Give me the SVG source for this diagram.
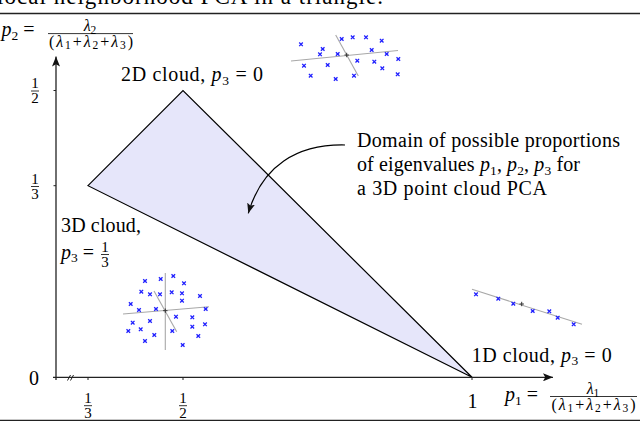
<svg xmlns="http://www.w3.org/2000/svg" width="640" height="421" viewBox="0 0 640 421">
<defs>
<style>
text{font-family:"Liberation Serif","Times New Roman",serif;fill:#000}
.lbl{font-size:20px}
.fr{font-size:15px;text-anchor:middle}
.num{font-size:16px;text-anchor:middle}
.den{font-size:16px;text-anchor:start}
.sm{font-size:13.5px}
.ss{font-size:11.5px}
.it{font-style:italic}
.axis{stroke:#222;stroke-width:1.3;fill:none}
.tick{stroke:#222;stroke-width:1}
.edge{stroke:#000;stroke-width:1.2;fill:#e6e6fa;stroke-linejoin:miter}
.gl{stroke:#a8a8a8;stroke-width:1.1}
.bar{stroke:#000;stroke-width:0.8}
.rule{stroke:#222;stroke-width:1.3}
</style>
<marker id="ah" viewBox="0 0 10 8" refX="10" refY="4" markerWidth="10" markerHeight="8" markerUnits="userSpaceOnUse" orient="auto"><path d="M0,0 L10,4 L0,8 L2.2,4Z" fill="#111"/></marker>
<path id="x" d="M-1.8,-1.8L1.8,1.8M-1.8,1.8L1.8,-1.8" stroke="#1f1fff" stroke-width="1.3"/>
<path id="pl" d="M-2.2,0H2.2M0,-2.2V2.2" stroke="#333" stroke-width="1"/>
</defs>

<g id="caption">
<text x="-3" y="4" font-size="23" textLength="386">local neighborhood PCA in a triangle.</text>
<line class="rule" x1="0" y1="13.5" x2="640" y2="13.5"/>
<line class="rule" x1="0" y1="420.3" x2="640" y2="420.3"/>
</g>

<g id="domain">
<polygon class="edge" points="88,185.7 183,90.5 472,377.3"/>
</g>

<g id="axes">
<line class="axis" x1="53" y1="377.3" x2="553" y2="377.3" marker-end="url(#ah)"/>
<line class="axis" x1="56" y1="380" x2="56" y2="56.5" marker-end="url(#ah)"/>
<line class="tick" x1="53.5" y1="90.5" x2="56" y2="90.5"/>
<line class="tick" x1="53.5" y1="185.7" x2="56" y2="185.7"/>
<line class="tick" x1="88" y1="377.3" x2="88" y2="380"/>
<line class="tick" x1="183" y1="377.3" x2="183" y2="380"/>
<line class="tick" x1="472" y1="377.3" x2="472" y2="380"/>
<path d="M67.5,380.5 L70.5,375 M70.5,380.5 L73.5,375" stroke="#222" stroke-width="1"/>
</g>

<g id="tick-labels">
<text class="lbl" x="34" y="385" text-anchor="middle">0</text>
<text class="fr" x="35" y="88">1</text>
<line class="bar" x1="31" y1="91" x2="39" y2="91"/>
<text class="fr" x="35" y="103">2</text>
<text class="fr" x="35" y="183.5">1</text>
<line class="bar" x1="31" y1="186.5" x2="39" y2="186.5"/>
<text class="fr" x="35" y="198.5">3</text>
<text class="fr" x="88" y="403">1</text>
<line class="bar" x1="84" y1="405.7" x2="92" y2="405.7"/>
<text class="fr" x="88" y="418">3</text>
<text class="fr" x="183" y="403">1</text>
<line class="bar" x1="179" y1="405.7" x2="187" y2="405.7"/>
<text class="fr" x="183" y="418">2</text>
<text class="lbl" x="472.5" y="408" text-anchor="middle">1</text>
</g>

<g id="y-axis-label">
<text class="lbl" x="1.5" y="36"><tspan class="it">p</tspan><tspan class="sm" dy="3.5">2</tspan><tspan dy="-3.5" dx="5">=</tspan></text>
<text class="num" x="90" y="31"><tspan class="it">λ</tspan><tspan class="ss" dy="2.5">2</tspan></text>
<line class="bar" x1="48" y1="33.6" x2="133" y2="33.6"/>
<text class="den" x="49" y="46.5" textLength="84">(<tspan class="it">λ</tspan><tspan class="ss" dy="2.5">1</tspan><tspan dy="-2.5">+</tspan><tspan class="it">λ</tspan><tspan class="ss" dy="2.5">2</tspan><tspan dy="-2.5">+</tspan><tspan class="it">λ</tspan><tspan class="ss" dy="2.5">3</tspan><tspan dy="-2.5">)</tspan></text>
</g>

<g id="x-axis-label">
<text class="lbl" x="505" y="401"><tspan class="it">p</tspan><tspan class="sm" dy="3.5">1</tspan><tspan dy="-3.5" dx="5">=</tspan></text>
<text class="num" x="593" y="394"><tspan class="it">λ</tspan><tspan class="ss" dy="2.5">1</tspan></text>
<line class="bar" x1="550" y1="396.5" x2="637" y2="396.5"/>
<text class="den" x="551.5" y="409.5" textLength="84">(<tspan class="it">λ</tspan><tspan class="ss" dy="2.5">1</tspan><tspan dy="-2.5">+</tspan><tspan class="it">λ</tspan><tspan class="ss" dy="2.5">2</tspan><tspan dy="-2.5">+</tspan><tspan class="it">λ</tspan><tspan class="ss" dy="2.5">3</tspan><tspan dy="-2.5">)</tspan></text>
</g>

<g id="label-2d">
<text class="lbl" x="121" y="81" textLength="142">2D cloud, <tspan class="it">p</tspan><tspan class="sm" dy="3.5">3</tspan><tspan dy="-3.5"> = 0</tspan></text>
</g>

<g id="label-3d">
<text class="lbl" x="61" y="231.5" textLength="80">3D cloud,</text>
<text class="lbl" x="61" y="258.5"><tspan class="it">p</tspan><tspan class="sm" dy="3.5">3</tspan><tspan dy="-3.5" dx="5">=</tspan></text>
<text class="fr" x="105" y="252">1</text>
<line class="bar" x1="101" y1="254.5" x2="109" y2="254.5"/>
<text class="fr" x="105" y="267">3</text>
</g>

<g id="label-1d">
<text class="lbl" x="471.7" y="361.7" textLength="140">1D cloud, <tspan class="it">p</tspan><tspan class="sm" dy="3.5">3</tspan><tspan dy="-3.5"> = 0</tspan></text>
</g>

<g id="note">
<text class="lbl" x="357" y="146.5" textLength="263">Domain of possible proportions</text>
<text class="lbl" x="357" y="171" textLength="223">of eigenvalues <tspan class="it">p</tspan><tspan class="sm" dy="3.5">1</tspan><tspan dy="-3.5">, </tspan><tspan class="it">p</tspan><tspan class="sm" dy="3.5">2</tspan><tspan dy="-3.5">, </tspan><tspan class="it">p</tspan><tspan class="sm" dy="3.5">3</tspan><tspan dy="-3.5"> for</tspan></text>
<text class="lbl" x="357" y="195" textLength="190">a 3D point cloud PCA</text>
</g>

<g id="cloud-2d">
<line class="gl" x1="291" y1="61" x2="398" y2="50.5"/>
<line class="gl" x1="335.7" y1="35" x2="358.3" y2="76"/>
<use href="#pl" x="346.7" y="55"/>
<use href="#x" x="301" y="44.3"/><use href="#x" x="322.7" y="49"/><use href="#x" x="320" y="54.3"/>
<use href="#x" x="341.7" y="39"/><use href="#x" x="352.7" y="37.3"/><use href="#x" x="366" y="37.3"/>
<use href="#x" x="381.7" y="40.7"/><use href="#x" x="371.7" y="50"/><use href="#x" x="386.7" y="54"/>
<use href="#x" x="398.3" y="59"/><use href="#x" x="337.7" y="54"/><use href="#x" x="357.3" y="60.7"/>
<use href="#x" x="374.3" y="61.7"/><use href="#x" x="382.3" y="68.3"/><use href="#x" x="304" y="65.7"/>
<use href="#x" x="327.7" y="65"/><use href="#x" x="354" y="75.7"/><use href="#x" x="397.7" y="74.3"/>
<use href="#x" x="310.7" y="75.7"/><use href="#x" x="335.7" y="79"/>
</g>

<g id="cloud-3d">
<line class="gl" x1="165.3" y1="273" x2="165.3" y2="350"/>
<line class="gl" x1="123" y1="314" x2="209" y2="306.7"/>
<line class="gl" x1="154" y1="291" x2="176.7" y2="331.7"/>
<use href="#pl" x="165.3" y="310.7"/>
<use href="#x" x="145" y="281"/><use href="#x" x="160.7" y="279"/><use href="#x" x="173.3" y="276"/>
<use href="#x" x="184" y="283.3"/><use href="#x" x="141.3" y="291.7"/><use href="#x" x="150" y="294.3"/>
<use href="#x" x="160" y="294.3"/><use href="#x" x="171.7" y="292.3"/><use href="#x" x="182" y="293.3"/>
<use href="#x" x="182" y="300.7"/><use href="#x" x="200" y="296"/><use href="#x" x="130.7" y="304"/>
<use href="#x" x="139" y="310"/><use href="#x" x="156" y="309"/><use href="#x" x="205.7" y="309"/>
<use href="#x" x="176" y="316.7"/><use href="#x" x="192.3" y="317.3"/><use href="#x" x="132.7" y="322.7"/>
<use href="#x" x="150" y="321"/><use href="#x" x="140.7" y="329.3"/><use href="#x" x="128.3" y="331"/>
<use href="#x" x="192.3" y="326.7"/><use href="#x" x="205" y="324.3"/><use href="#x" x="172.3" y="331"/>
<use href="#x" x="154.3" y="335"/><use href="#x" x="198.3" y="336"/><use href="#x" x="145" y="341"/>
<use href="#x" x="182.7" y="345"/>
</g>

<g id="cloud-1d">
<line class="gl" x1="472" y1="289.3" x2="582" y2="324.3"/>
<use href="#pl" x="521.7" y="304"/>
<use href="#x" x="476" y="294.3"/><use href="#x" x="498.3" y="298.7"/><use href="#x" x="513.3" y="303.7"/>
<use href="#x" x="532.7" y="311"/><use href="#x" x="549.3" y="311.3"/><use href="#x" x="557.7" y="317.7"/>
<use href="#x" x="573.7" y="324.3"/>
</g>

<g id="connectors">
<path d="M345,145 C297,144 262,166 248.3,213.3" fill="none" stroke="#000" stroke-width="1.2" marker-end="url(#ah)"/>
</g>
</svg>
